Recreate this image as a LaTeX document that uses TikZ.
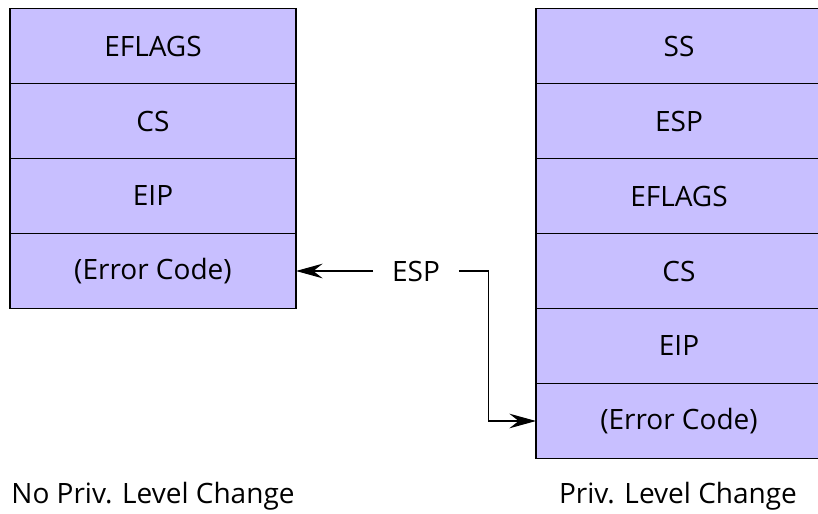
\documentclass[tikz,border=0pt]{standalone}
\usepackage{fontspec}
\setmainfont{Open Sans}
\usepackage{xcolor}
\usetikzlibrary{calc}
\usetikzlibrary{arrows.meta}

\definecolor{stackfill}{RGB}{200,191,255}

\begin{document}
\begin{tikzpicture}[x=0.75pt,y=-0.75pt]

\tikzset{
    cell/.style = {
    minimum height=56.25pt,
    minimum width = 214.5pt,
    outer sep=0pt,
    inner sep=0pt,
    anchor=center
    }
}

\tikzstyle{slot}=[draw, line width=0.9pt, fill=stackfill, cell, font=\fontsize{21}{25}\selectfont]
\tikzstyle{label}=[font=\fontsize{21}{25}\selectfont]
\tikzstyle{ptr}=[draw, line width=0.9pt, -{Stealth[length=20pt,width=11pt,inset=7pt]}]

\useasboundingbox (0,0) rectangle (818,514);
\clip (0,0) rectangle (818,514);

\matrix (l) at (153,158.5) [row sep=-0.9pt, inner sep=0pt]
{
\node (l-1) [slot] {EFLAGS}; \\
\node (l-2) [slot] {CS}; \\
\node (l-3) [slot] {EIP}; \\
\node (l-4) [slot] {(Error Code)}; \\
};

\matrix (r) at (679,233.5) [row sep=-0.9pt, inner sep=0pt]
{
\node (r-1) [slot] {SS}; \\
\node (r-2) [slot] {ESP}; \\
\node (r-3) [slot] {EFLAGS}; \\
\node (r-4) [slot] {CS}; \\
\node (r-5) [slot] {EIP}; \\
\node (r-6) [slot] {(Error Code)}; \\
};

\path (l-4.east) ++(120,0) node (esp) [label, inner xsep=14pt] {ESP};

\draw[ptr] (esp.west) -- (l-4.east);
\draw[ptr] (esp.east) -- ++(30,0) |- (r-6.west);

\node (lcap) [label] at (153,496) {No Priv. Level Change};
\node (rcap) [label] at (678,496) {Priv. Level Change};

\end{tikzpicture}
\end{document}
